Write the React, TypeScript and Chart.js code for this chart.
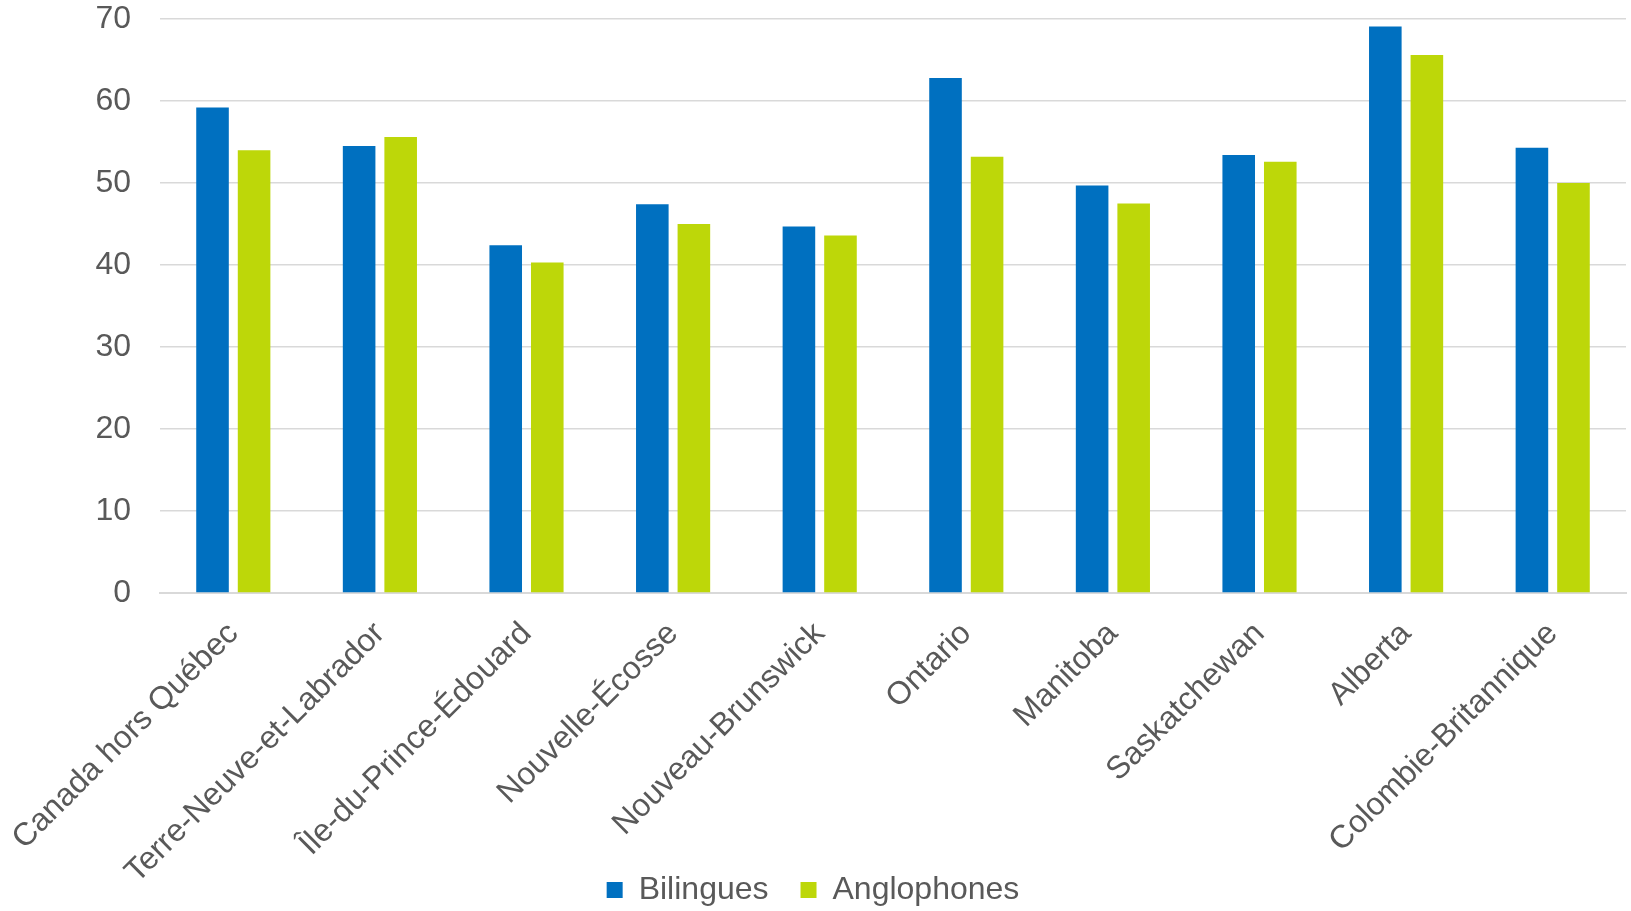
import React, { useEffect, useRef } from "react";
import { Chart, registerables } from "chart.js";

Chart.register(...registerables);

const categories = [
  "Canada hors Québec",
  "Terre-Neuve-et-Labrador",
  "Île-du-Prince-Édouard",
  "Nouvelle-Écosse",
  "Nouveau-Brunswick",
  "Ontario",
  "Manitoba",
  "Saskatchewan",
  "Alberta",
  "Colombie-Britannique",
];
const bilingues = [59.2, 54.5, 42.4, 47.4, 44.7, 62.8, 49.7, 53.4, 69.1, 54.3];
const anglophones = [54.0, 55.6, 40.3, 45.0, 43.6, 53.2, 47.5, 52.6, 65.6, 50.0];
const seriesNames = ["Bilingues", "Anglophones"];
const yMin = 0;
const yMax = 70;
const yStep = 10;

export default function App() {
  const ref = useRef<HTMLCanvasElement | null>(null);
  useEffect(() => {
    if (!ref.current) return;
    const family = "'Liberation Sans', Arial, sans-serif";
    const font = { family, size: 32 };
    const chart = new Chart(ref.current, {
      type: "bar",
      data: {
        labels: categories,
        datasets: [
          {
            label: seriesNames[0],
            data: bilingues,
            backgroundColor: "#0070C0",
            categoryPercentage: 0.567,
            barPercentage: 0.784,
          },
          {
            label: seriesNames[1],
            data: anglophones,
            backgroundColor: "#BDD709",
            categoryPercentage: 0.567,
            barPercentage: 0.784,
          },
        ],
      },
      options: {
        responsive: false,
        animation: false,
        layout: { padding: { top: 5, right: 5, bottom: 0, left: 0 } },
        plugins: {
          tooltip: { enabled: false },
          legend: {
            position: "bottom",
            maxHeight: 69,
            labels: {
              font,
              color: "#595959",
              boxWidth: 16,
              boxHeight: 16,
              padding: 32,
            },
          },
        },
        scales: {
          x: {
            grid: { display: false, drawTicks: false },
            border: { display: true, color: "#D9D9D9", width: 2 },
            ticks: {
              font,
              color: "#595959",
              maxRotation: 45,
              minRotation: 45,
              autoSkip: false,
              padding: 22,
            },
            afterFit: (s: any) => {
              s.height = 249;
              s.paddingLeft = 0;
              s.paddingRight = 0;
              s._computeLabelArea = () => undefined;
            },
          },
          y: {
            min: yMin,
            max: yMax,
            grid: {
              color: "#D9D9D9",
              lineWidth: 1.5,
              drawTicks: true,
              tickLength: 26,
              tickColor: "rgba(0,0,0,0)",
            },
            border: { display: false },
            ticks: {
              stepSize: yStep,
              font: { family, size: 32, lineHeight: 1.0 },
              color: "#595959",
              padding: 3,
            },
            afterFit: (s: any) => {
              s.width = 160;
            },
          },
        },
      },
    });
    return () => chart.destroy();
  }, []);
  return (
    <div style={{ position: "fixed", left: 0, top: 0, width: 1631, height: 911, background: "#fff" }}>
      <canvas ref={ref} width={1631} height={911} style={{ width: 1631, height: 911 }} />
    </div>
  );
}
